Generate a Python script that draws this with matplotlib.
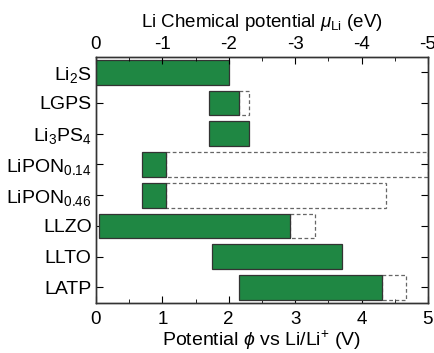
import matplotlib
matplotlib.use("Agg")
import matplotlib.pyplot as plt
from matplotlib.ticker import MultipleLocator, FixedLocator

plt.rcParams['font.family'] = ['Liberation Sans', 'DejaVu Sans']
plt.rcParams['mathtext.fontset'] = 'custom'
plt.rcParams['mathtext.rm'] = 'Liberation Sans'
plt.rcParams['mathtext.it'] = 'Liberation Sans:italic'

materials = ['Li$_2$S', 'LGPS', 'Li$_3$PS$_4$', 'LiPON$_{0.14}$', 'LiPON$_{0.46}$',
             'LLZO', 'LLTO', 'LATP']
stable_low = [0.0, 1.70, 1.70, 0.69, 0.69, 0.05, 1.75, 2.16]
stable_high = [2.00, 2.16, 2.31, 1.06, 1.06, 2.92, 3.71, 4.31]
extended_high = [2.00, 2.31, 2.31, 5.00, 4.37, 3.30, 3.71, 4.67]
top_ticks = ['0', '-1', '-2', '-3', '-4', '-5']

fig = plt.figure(figsize=(4.34, 3.53), dpi=100)
ax = fig.add_axes([0.221, 0.142, 0.765, 0.697])

y = list(range(len(materials)))
green = '#1f8743'
ax.barh(y, [h - l for l, h in zip(stable_low, stable_high)], left=stable_low,
        height=0.8, color=green, edgecolor='#333333', linewidth=0.9, zorder=3)
ext_w = [e - h for h, e in zip(stable_high, extended_high)]
for yi, h, w in zip(y, stable_high, ext_w):
    if w > 0:
        ax.barh(yi, w, left=h, height=0.8, facecolor='none', edgecolor='#666666',
                linewidth=0.9, linestyle=(0, (3, 2)), zorder=2)

ax.set_xlim(0, 5)
ax.set_ylim(7.5, -0.5)
ax.set_yticks(y)
ax.set_yticklabels(materials, fontsize=14)
ax.xaxis.set_major_locator(MultipleLocator(1))
ax.xaxis.set_minor_locator(MultipleLocator(0.5))
ax.tick_params(axis='x', which='major', direction='in', length=5, labelsize=13.5, top=True, pad=6)
ax.tick_params(axis='x', which='minor', direction='in', length=3, top=True)
ax.tick_params(axis='y', direction='in', length=5, right=True, pad=3)
ax.set_xlabel('Potential $\\mathit{\\phi}$ vs Li/Li$^{+}$ (V)', fontsize=14, labelpad=0)

ax2 = ax.twiny()
ax2.set_xlim(0, 5)
ax2.xaxis.set_major_locator(FixedLocator(range(6)))
ax2.set_xticklabels(top_ticks)
ax2.xaxis.set_minor_locator(MultipleLocator(0.5))
ax2.tick_params(axis='x', which='major', direction='in', length=5, labelsize=13.5, pad=3)
ax2.tick_params(axis='x', which='minor', direction='in', length=3)
ax2.set_xlabel('Li Chemical potential $\\mathit{\\mu}_{\\rm Li}$ (eV)', fontsize=13.5, labelpad=6)

for a in (ax, ax2):
    for s in a.spines.values():
        s.set_color('#333333')
        s.set_linewidth(1.0)

fig.savefig('out.png', dpi=100)
